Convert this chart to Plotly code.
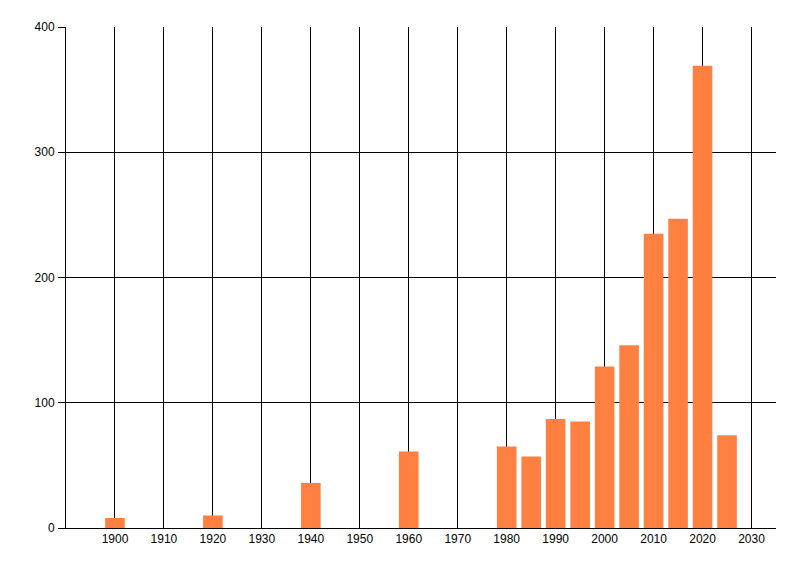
import plotly.graph_objects as go

# Bars per year
years = [1900, 1920, 1940, 1960, 1980, 1985, 1990, 1995, 2000, 2005, 2010, 2015, 2020, 2025]
counts = [8, 10, 36, 61, 65, 57, 87, 85, 129, 146, 235, 247, 369, 74]

x_ticks = list(range(1900, 2031, 10))
y_ticks = [0, 100, 200, 300, 400]

fig = go.Figure(go.Bar(
    x=years,
    y=counts,
    width=4,
    marker=dict(color='#FF8040', line=dict(width=0)),
))

# page body adds an 8px offset, margins account for it
fig.update_layout(
    width=800,
    height=576,
    margin=dict(l=58, r=32, t=19, b=56),
    plot_bgcolor='white',
    paper_bgcolor='white',
    showlegend=False,
    font=dict(family='Liberation Sans', size=12, color='black'),
    xaxis=dict(
        range=[1890, 2035],
        tickvals=x_ticks,
        ticktext=[str(t) for t in x_ticks],
        showgrid=True,
        gridcolor='black',
        gridwidth=1,
        zeroline=False,
        showline=True,
        linecolor='black',
        linewidth=1,
        ticks='',
    ),
    yaxis=dict(
        range=[0, 400],
        tickvals=y_ticks,
        showgrid=True,
        gridcolor='black',
        gridwidth=1,
        zeroline=False,
        showline=True,
        linecolor='black',
        linewidth=1,
        ticks='outside',
        ticklen=7,
        tickcolor='black',
        ticklabelstandoff=1,
    ),
)

fig.write_html("out.html")
